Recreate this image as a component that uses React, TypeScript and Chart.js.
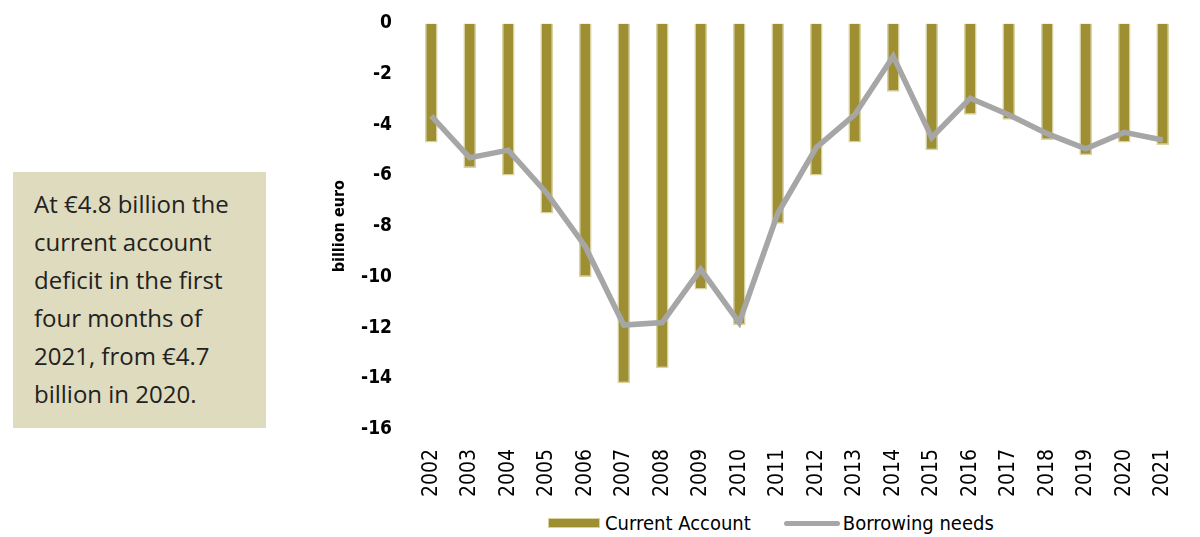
import React, { useEffect, useRef } from "react";
import { Chart, registerables } from "chart.js";

Chart.register(...registerables);

const years = ["2002","2003","2004","2005","2006","2007","2008","2009","2010","2011","2012","2013","2014","2015","2016","2017","2018","2019","2020","2021"];
const currentAccount = [-4.7,-5.7,-6.0,-7.5,-10.0,-14.2,-13.6,-10.5,-11.9,-7.9,-6.0,-4.7,-2.7,-5.0,-3.6,-3.8,-4.6,-5.2,-4.7,-4.8];
const borrowingNeeds = [-3.65,-5.3,-5.0,-6.7,-8.8,-11.9,-11.8,-9.7,-11.8,-7.5,-4.9,-3.6,-1.3,-4.5,-2.95,-3.6,-4.35,-4.95,-4.3,-4.6];
const seriesNames = ["Current Account", "Borrowing needs"];
const noteLines = ["At €4.8 billion the", "current account", "deficit in the first", "four months of", "2021, from €4.7", "billion in 2020."];

const COND = '"Liberation Sans Narrow", "DejaVu Sans Condensed", "Arial Narrow", sans-serif';
const BAR = "#9e8f33";
const BAR_BORDER = "#d8d3a0";
const LINE = "#a6a6a6";

export default function App() {
  const ref = useRef<HTMLCanvasElement | null>(null);
  useEffect(() => {
    if (!ref.current) return;
    const chart = new Chart(ref.current, {
      type: "bar",
      data: {
        labels: years,
        datasets: [
          {
            type: "bar",
            label: seriesNames[0],
            data: currentAccount,
            backgroundColor: BAR,
            borderColor: BAR_BORDER,
            borderWidth: 1.5,
            barPercentage: 0.33,
            categoryPercentage: 1,
            order: 2,
          },
          {
            type: "line",
            label: seriesNames[1],
            data: borrowingNeeds,
            borderColor: LINE,
            backgroundColor: LINE,
            borderWidth: 5.5,
            pointRadius: 0,
            tension: 0,
            order: 1,
          } as any,
        ],
      },
      options: {
        animation: false,
        responsive: false,
        maintainAspectRatio: false,
        layout: { padding: { top: 7, right: 3, bottom: 0, left: 0 } },
        plugins: { legend: { display: false }, tooltip: { enabled: false } },
        scales: {
          x: {
            grid: { display: false },
            border: { display: false },
            ticks: {
              minRotation: 90,
              maxRotation: 90,
              autoSkip: false,
              padding: 12,
              color: "#000",
              font: { family: COND, size: 21 },
            },
            afterFit: (s: any) => { s.height = 71; },
          },
          y: {
            min: -16,
            max: 0,
            grid: { display: false },
            border: { display: false },
            ticks: {
              stepSize: 2,
              padding: 12,
              color: "#000",
              font: { family: COND, size: 19, weight: "bold" },
            },
            title: {
              display: true,
              text: "billion euro",
              color: "#000",
              font: { family: COND, size: 16, weight: "bold" },
              padding: { top: 10, bottom: 0 },
            },
            afterFit: (s: any) => { s.width = 92; },
          },
        },
      },
    });
    return () => chart.destroy();
  }, []);

  return (
    <div style={{ position: "fixed", left: 0, top: 0, width: 1200, height: 537, background: "#fff" }}>
      <div
        style={{
          position: "absolute",
          left: 13,
          top: 172,
          width: 253,
          height: 256,
          background: "#dfdbbe",
          boxSizing: "border-box",
          padding: "13px 0 0 21px",
          fontFamily: '"Open Sans", "Noto Sans", sans-serif',
          fontSize: 24,
          lineHeight: "38px",
          color: "#222",
        }}
      >
        {noteLines.map((l, i) => (
          <div key={i} style={{ whiteSpace: "nowrap" }}>{l}</div>
        ))}
      </div>
      <canvas ref={ref} width={880} height={500} style={{ position: "absolute", left: 320, top: 0, width: 880, height: 500 }} />
      <div style={{ position: "absolute", left: 548, top: 512, display: "flex", alignItems: "center", fontFamily: COND, fontSize: 20, color: "#000", height: 22 }}>
        <span style={{ display: "inline-block", width: 52, height: 10, background: BAR, border: `1.5px solid ${BAR_BORDER}`, boxSizing: "border-box", marginRight: 5 }} />
        <span>{seriesNames[0]}</span>
        <span style={{ display: "inline-block", width: 56, height: 5, background: LINE, borderRadius: 3, marginLeft: 33, marginRight: 3 }} />
        <span>{seriesNames[1]}</span>
      </div>
    </div>
  );
}
